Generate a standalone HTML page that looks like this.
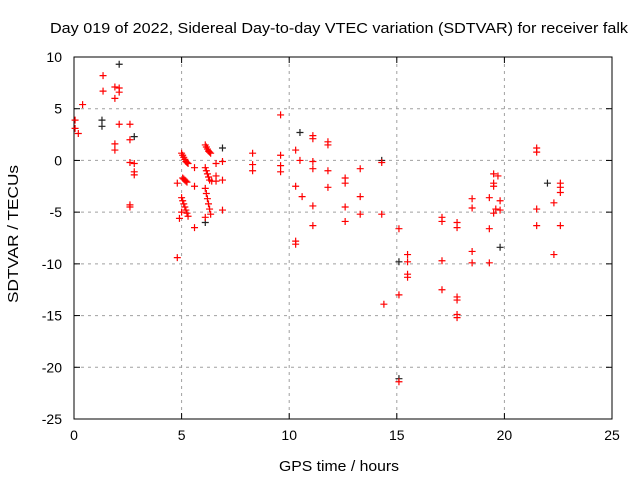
<!DOCTYPE html>
<html><head><meta charset="utf-8"><style>
body{margin:0;background:#fff;}
svg{display:block;font-family:"Liberation Sans",sans-serif;}
</style></head><body>
<svg id="chart" width="640" height="480"></svg>
<script>
const xTicks=[0,5,10,15,20,25];
const yTicks=[10,5,0,-5,-10,-15,-20,-25];
const redX=[0.05,0.05,0.2,0.4,1.35,1.35,1.9,1.9,2.1,2.1,1.9,1.9,2.1,2.6,2.6,2.6,2.8,2.8,2.8,2.6,2.6,
5.0,5.05,5.1,5.15,5.2,5.25,5.3,5.05,5.1,5.15,5.2,5.25,5.0,5.05,5.1,5.15,5.2,5.25,5.3,5.0,
6.1,6.15,6.2,6.25,6.3,6.35,6.1,6.15,6.2,6.25,6.3,6.4,6.1,6.15,6.2,6.25,6.3,6.35,6.1,
4.8,4.8,4.9,5.6,5.6,5.6,6.6,6.6,6.6,6.9,6.9,6.9,
8.3,8.3,8.3,9.6,9.6,9.6,9.6,10.3,10.3,10.3,10.3,10.5,10.6,11.1,11.1,11.1,11.1,11.1,11.1,11.8,11.8,11.8,11.8,12.6,12.6,12.6,12.6,13.3,13.3,13.3,14.3,14.3,14.4,15.1,15.1,15.1,15.5,15.5,15.5,15.5,
17.1,17.1,17.1,17.1,17.8,17.8,17.8,17.8,17.8,17.8,18.5,18.5,18.5,18.5,19.3,19.3,19.3,19.5,19.5,19.5,19.5,19.6,19.7,19.8,19.8,
21.5,21.5,21.5,21.5,22.3,22.3,22.6,22.6,22.6,22.6];
const redY=[3.9,3.1,2.6,5.4,8.2,6.7,7.1,6.0,7.0,6.6,1.6,1.0,3.5,3.5,2.0,-0.2,-0.3,-1.1,-1.4,-4.5,-4.3,
0.7,0.5,0.3,0.1,-0.1,-0.2,-0.3,-1.7,-1.8,-1.9,-2.0,-2.1,-3.6,-3.9,-4.2,-4.5,-4.8,-5.1,-5.4,-5.0,
1.5,1.3,1.1,0.9,0.8,0.7,-0.7,-1.0,-1.3,-1.6,-1.9,-2.0,-2.7,-3.2,-3.7,-4.2,-4.7,-5.2,-5.5,
-2.2,-9.4,-5.6,-0.7,-2.5,-6.5,-0.3,-1.5,-2.0,-0.1,-1.9,-4.8,
0.7,-0.4,-1.0,4.4,0.5,-0.5,-1.1,1.0,-2.5,-7.8,-8.1,0.0,-3.5,2.4,2.1,-0.1,-0.8,-4.4,-6.3,1.8,1.5,-1.0,-2.6,-1.7,-2.2,-4.5,-5.9,-0.8,-3.5,-5.2,-0.2,-5.2,-13.9,-6.6,-13.0,-21.4,-9.1,-9.8,-11.0,-11.3,
-5.5,-5.9,-9.7,-12.5,-6.0,-6.5,-13.2,-13.5,-14.9,-15.2,-3.7,-4.6,-8.8,-9.9,-3.6,-6.6,-9.9,-1.3,-2.2,-2.5,-5.1,-4.7,-1.5,-3.9,-4.8,
1.2,0.8,-4.7,-6.3,-4.1,-9.1,-2.2,-2.6,-3.1,-6.3];
const blackX=[1.3,1.3,2.1,2.8,6.9,6.1,10.5,14.3,15.1,15.1,19.8,22.0];
const blackY=[3.9,3.3,9.3,2.3,1.2,-6.0,2.7,0.0,-9.8,-21.1,-8.4,-2.2];

const L=74,R=612,T=57,B=419,NS="http://www.w3.org/2000/svg";
const xs=v=>L+(v-0)/25*(R-L);
const ys=v=>T+(10-v)/35*(B-T);
const svg=document.getElementById('chart');
function mk(tag,attrs,parent){const e=document.createElementNS(NS,tag);for(const k in attrs)e.setAttribute(k,attrs[k]);(parent||svg).appendChild(e);return e;}
const grid=mk('g',{});


xTicks.forEach(t=>{const x=xs(t);
 if(t>0&&t<25){const l=mk('line',{x1:x,x2:x,y1:T,y2:B,stroke:'#a0a0a0','stroke-dasharray':'3,4'},grid);}
 mk('line',{x1:x,x2:x,y1:B,y2:B-6,stroke:'#000'},grid);mk('line',{x1:x,x2:x,y1:T,y2:T+6,stroke:'#000'},grid);
 const tx=mk('text',{x:x,y:B+21,'text-anchor':'middle','font-size':14});tx.textContent=t;
 
 
});
yTicks.forEach(t=>{const y=ys(t);
 if(t<10&&t>-25){const l=mk('line',{x1:L,x2:R,y1:y,y2:y,stroke:'#a0a0a0','stroke-dasharray':'3,4'},grid);}
 mk('line',{x1:L,x2:L+6,y1:y,y2:y,stroke:'#000'},grid);mk('line',{x1:R,x2:R-6,y1:y,y2:y,stroke:'#000'},grid);
 const tx=mk('text',{x:L-12,y:y+5,'text-anchor':'end','font-size':14});tx.textContent=t;
 
 
});
const frame=mk('rect',{x:L,y:T,width:R-L,height:B-T,fill:'none',stroke:'#000'});


function plus(xv,yv,col,name){const x=xs(xv),y=ys(yv);const g=mk('path',{d:`M${x-3.5},${y}H${x+3.5}M${x},${y-3.5}V${y+3.5}`,stroke:col,'stroke-width':1.2,fill:'none'});
 
 }
blackX.forEach((v,i)=>plus(v,blackY[i],'#222','point-black'));
redX.forEach((v,i)=>plus(v,redY[i],'#ff0000','point-red'));
const title=mk('text',{x:50,y:33,'font-size':14.5,textLength:578,lengthAdjust:'spacingAndGlyphs'});title.textContent='Day 019 of 2022, Sidereal Day-to-day VTEC variation (SDTVAR) for receiver falk';


const xl=mk('text',{x:279,y:471,'font-size':14.5,textLength:120,lengthAdjust:'spacingAndGlyphs'});xl.textContent='GPS time / hours';


const yl=mk('text',{x:165,y:18,'font-size':14.5,textLength:138,lengthAdjust:'spacingAndGlyphs',transform:'translate(0,468) rotate(-90)'});yl.textContent='SDTVAR / TECUs';


</script>
</body></html>
